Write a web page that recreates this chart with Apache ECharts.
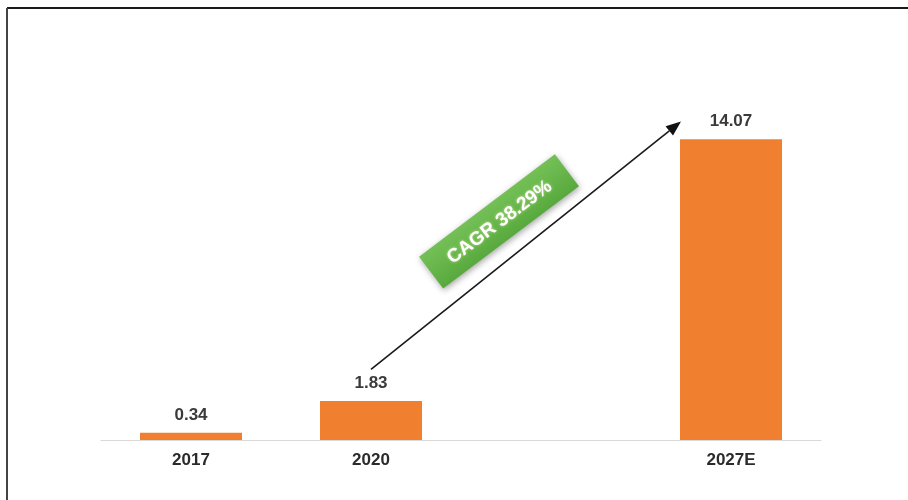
<!DOCTYPE html>
<html>
<head>
<meta charset="utf-8">
<style>html,body{margin:0;padding:0;background:#fff;}#c{width:908px;height:500px;}</style>
<script src="https://cdn.jsdelivr.net/npm/echarts@6/dist/echarts.min.js"></script>
</head>
<body>
<div id="c"></div>
<script>
const categories = ['2017', '2020', '', '2027E'];
const values = [0.34, 1.83, null, 14.07];
const cagrText = 'CAGR 38.29%';
// arrow anchors in data terms [category, value]
const arrowStart = ['2020', 3.3];
const arrowEnd = ['2027E', 14.9];

const chart = echarts.init(document.getElementById('c'));
const font = '"Liberation Sans", Arial, sans-serif';
chart.setOption({
  animation: false,
  backgroundColor: '#fff',
  grid: { left: 101, right: 87, top: 98, bottom: 60 },
  xAxis: {
    type: 'category',
    data: categories,
    axisLine: { lineStyle: { color: '#d9d9d9', width: 1 } },
    axisTick: { show: false },
    axisLabel: { fontSize: 17, fontWeight: 'bold', color: '#2b2b2b', margin: 12, fontFamily: font }
  },
  yAxis: { type: 'value', min: 0, max: 16, show: false, splitLine: { show: false } },
  series: [{
    type: 'bar',
    data: values,
    barWidth: 102,
    itemStyle: { color: '#f0802f' },
    label: { show: true, position: 'top', distance: 9, fontSize: 17, fontWeight: 'bold', color: '#3a3a3a', fontFamily: font }
  }]
});

function drawAnnotations() {
  const s = chart.convertToPixel({ seriesIndex: 0 }, arrowStart);
  const eC = chart.convertToPixel({ seriesIndex: 0 }, arrowEnd);
  const e = [eC[0] - 50, eC[1]];
  const ang = Math.atan2(s[1] - e[1], e[0] - s[0]);
  const ux = Math.cos(ang), uy = -Math.sin(ang);
  const headLen = 15, headW = 6;
  const bx = e[0] - ux * headLen, by = e[1] - uy * headLen;
  const px = -uy, py = ux;
  const mid = [(s[0] + e[0]) / 2, (s[1] + e[1]) / 2];
  const boxC = [mid[0] - 27, mid[1] - 24];
  chart.setOption({
    graphic: [
      { type: 'line', shape: { x1: 7, y1: 8, x2: 908, y2: 8 }, style: { stroke: '#1a1a1a', lineWidth: 2 } },
      { type: 'line', shape: { x1: 7, y1: 8, x2: 7, y2: 500 }, style: { stroke: '#444', lineWidth: 2 } },
      { type: 'line', shape: { x1: s[0], y1: s[1], x2: bx, y2: by }, style: { stroke: '#1a1a1a', lineWidth: 1.6 } },
      { type: 'polygon', shape: { points: [[e[0], e[1]], [bx + px * headW, by + py * headW], [bx - px * headW, by - py * headW]] }, style: { fill: '#111' } },
      {
        type: 'group', x: boxC[0], y: boxC[1], rotation: 37 * Math.PI / 180,
        children: [
          { type: 'rect', shape: { x: -85, y: -20, width: 170, height: 40 },
            style: { fill: new echarts.graphic.LinearGradient(0, 0, 0, 1, [{ offset: 0, color: '#74c057' }, { offset: 1, color: '#58a93d' }]),
                     shadowBlur: 6, shadowColor: 'rgba(0,0,0,0.35)', shadowOffsetX: 1, shadowOffsetY: 2 } },
          { type: 'text', x: 0, y: 1,
            style: { text: cagrText, fill: '#fff', font: 'bold 19px ' + font, align: 'center', verticalAlign: 'middle',
                     textShadowBlur: 3, textShadowColor: 'rgba(255,255,200,0.6)' } }
        ]
      }
    ]
  });
}
drawAnnotations();
</script>
</body>
</html>
